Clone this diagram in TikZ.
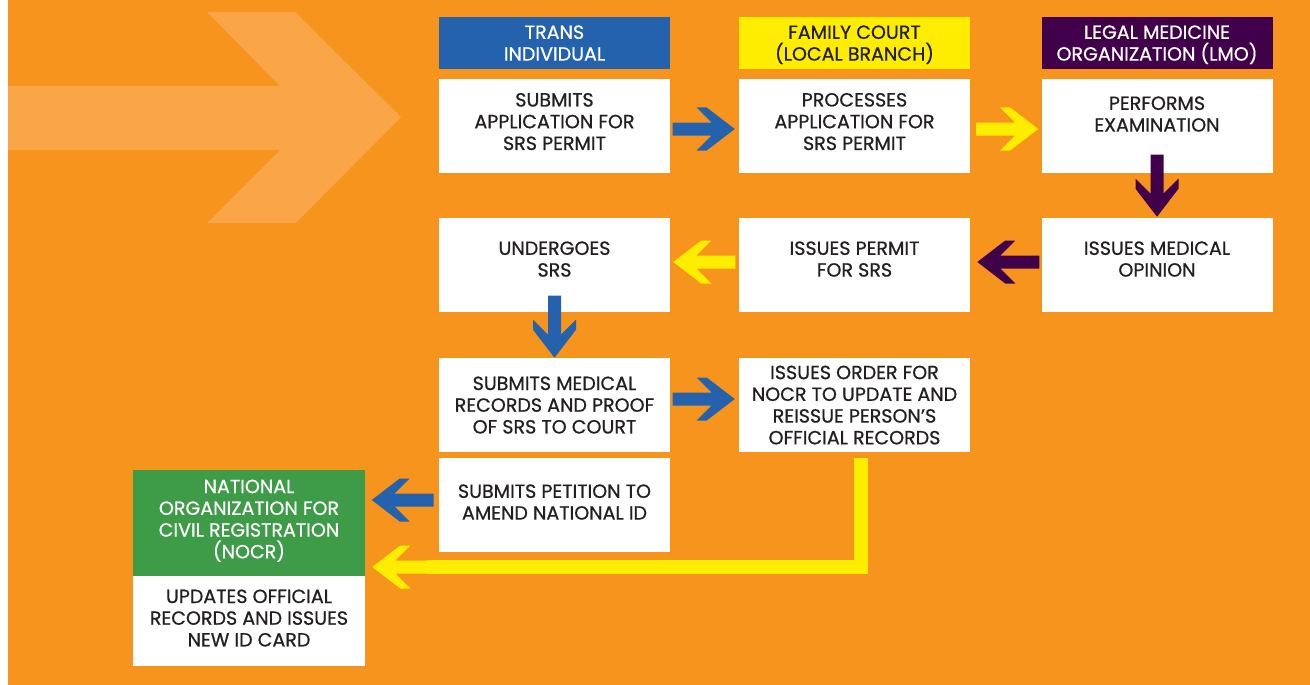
\documentclass[tikz,border=0pt]{standalone}
\usepackage{fontspec}
\setmainfont{Poppins}[UprightFeatures={FakeBold=0.7}]
\usetikzlibrary{calc}

\definecolor{bgorange}{HTML}{F7941D}
\definecolor{lightorange}{HTML}{F9A548}
\definecolor{transblue}{HTML}{2462AE}
\definecolor{courtyellow}{HTML}{FFED00}
\definecolor{lmopurple}{HTML}{40004A}
\definecolor{nocrgreen}{HTML}{3E9B47}
\definecolor{textdark}{HTML}{231F20}

\tikzset{
  stepbox/.style={fill=white, text=textdark, minimum width=173.25pt,
    minimum height=70.5pt, inner sep=0pt, align=center, text depth=0pt,
    font=\fontsize{14.3pt}{16.3pt}\selectfont},
  headbox/.style={stepbox, minimum height=39pt, text=white},
  lift/.style={text depth=#1},
  pics/blockarrow/.style={code={
    \fill[#1] (0,0) -- (-28,-21.5) -- (-38,-21.5) -- (-23,-6.5) -- (-62,-6.5)
      -- (-62,6.5) -- (-23,6.5) -- (-38,21.5) -- (-28,21.5) -- cycle;
  }}
}

\begin{document}
\begin{tikzpicture}[x=0.75pt, y=-0.75pt]
\useasboundingbox (0,0) rectangle (1310,685);
\fill[bgorange] (8,0) rectangle (1310,685);
% big arrow in the back
\fill[lightorange] (8,86) -- (280,86) -- (207,12) -- (295,12) -- (401,117)
  -- (296,223) -- (207,223) -- (280,150) -- (8,150) -- cycle;

% column heads
\node[headbox, fill=transblue] (ha) at (554.5,43) {TRANS\\INDIVIDUAL};
\node[headbox, fill=courtyellow, text=textdark] (hb) at (854.5,43) {FAMILY COURT\\(LOCAL BRANCH)};
\node[headbox, fill=lmopurple] (hc) at (1157,43) {LEGAL MEDICINE\\ORGANIZATION (LMO)};

% steps
\node[stepbox, lift=6.75pt] (a1) at (554.5,126) {SUBMITS\\APPLICATION FOR\\SRS PERMIT};
\node[stepbox, lift=6.75pt] (b1) at (854.5,126) {PROCESSES\\APPLICATION FOR\\SRS PERMIT};
\node[stepbox, lift=18pt] (c1) at (1157,126) {PERFORMS\\EXAMINATION};
\node[stepbox, lift=9pt] (a2) at (554.5,265) {UNDERGOES\\SRS};
\node[stepbox, lift=9pt] (b2) at (854.5,265) {ISSUES PERMIT\\FOR SRS};
\node[stepbox, lift=9pt] (c2) at (1157,265) {ISSUES MEDICAL\\OPINION};
\node[stepbox] (a3) at (554.5,405) {SUBMITS MEDICAL\\RECORDS AND PROOF\\OF SRS TO COURT};
\node[stepbox] (b3) at (854.5,405) {ISSUES ORDER FOR\\NOCR TO UPDATE AND\\REISSUE PERSON’S\\OFFICIAL RECORDS};
\node[stepbox, lift=4.5pt] (a4) at (554.5,505) {SUBMITS PETITION TO\\AMEND NATIONAL ID};
\node[headbox, fill=nocrgreen, minimum width=174pt, minimum height=79.5pt, lift=6pt] (n) at (249,523)
  {NATIONAL\\ORGANIZATION FOR\\CIVIL REGISTRATION\\(NOCR)};
\node[stepbox, minimum width=174pt, minimum height=67.5pt, lift=4.5pt] (nr) at (249,621)
  {UPDATES OFFICIAL\\RECORDS AND ISSUES\\NEW ID CARD};

% arrows
\pic at ([shift={(-4,3)}]b1.west) {blockarrow=transblue};
\pic at ([shift={(-3,3)}]c1.west) {blockarrow=courtyellow};
\pic[rotate=-90] at ([shift={(0,-1)}]c2.north) {blockarrow=lmopurple};
\pic[rotate=180] at ([shift={(7,-3)}]b2.east) {blockarrow=lmopurple};
\pic[rotate=180] at ([shift={(3,-3)}]a2.east) {blockarrow=courtyellow};
\pic[rotate=-90] at (a3.north) {blockarrow=transblue};
\pic at ([shift={(-4,-6)}]b3.west) {blockarrow=transblue};
\pic[rotate=180] at ([shift={(-67,-5)}]a4.west) {blockarrow=transblue};
% order goes back to the nocr
\coordinate (ltip) at ([shift={(7,44)}]n.east);
\draw[courtyellow, line width=10.5pt] ([shift={(6,6)}]b3.south) |- ([shift={(55,0)}]ltip);
\pic[rotate=180] at (ltip) {blockarrow=courtyellow};
\end{tikzpicture}
\end{document}
